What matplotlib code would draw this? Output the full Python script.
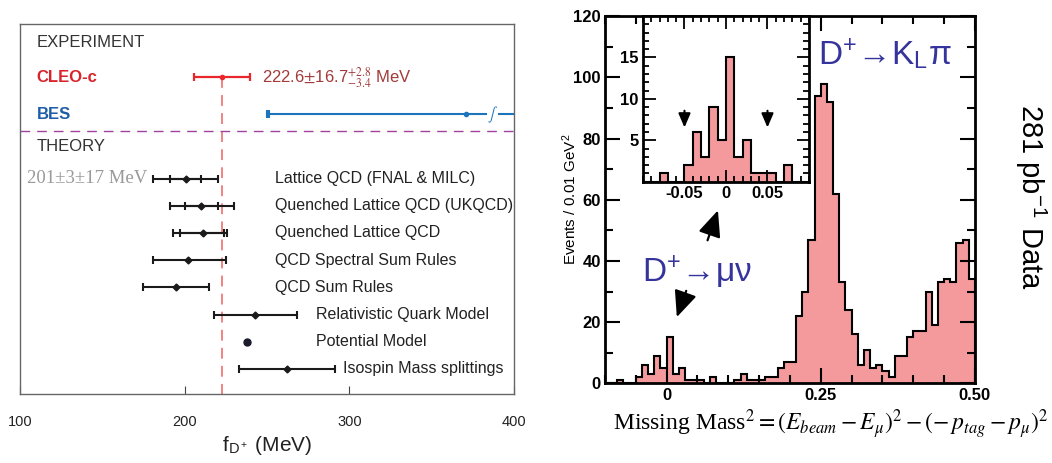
import numpy as np
import matplotlib.pyplot as plt
from matplotlib.ticker import MultipleLocator

plt.rcParams['font.family'] = ['Liberation Sans', 'DejaVu Sans']
plt.rcParams['mathtext.fontset'] = 'stix'
plt.rcParams['axes.unicode_minus'] = False

# ---- left panel: f_D+ comparison (MeV)
cleo_val = 222.6
cleo_stat = 16.7
cleo_syst_up = 2.8
cleo_syst_dn = 3.4
bes_val = 371.0
bes_err_dn = 121.0

theory_labels = ['Lattice QCD (FNAL & MILC)', 'Quenched Lattice QCD (UKQCD)',
                 'Quenched Lattice QCD', 'QCD Spectral Sum Rules', 'QCD Sum Rules',
                 'Relativistic Quark Model', 'Potential Model', 'Isospin Mass splittings']
theory_vals = [201, 210, 211, 202, 195, 243, 238, 262]
theory_err_lo = [20, 19, 18, 21, 20, 25, 0, 29]
theory_err_hi = [19, 20, 15, 23, 20, 25, 0, 29]
theory_inner_lo = [10, 10, 14, 0, 0, 0, 0, 0]
theory_inner_hi = [9, 10, 13, 0, 0, 0, 0, 0]

# ---- right panel: missing mass squared histogram, 0.01 GeV^2 bins from -0.10
mm2_start = -0.10
mm2_bin = 0.01
mm2_counts = [0, 0, 1, 0, 0, 2, 6, 3, 9, 5,
              15, 3, 5, 1, 1, 1, 0, 2, 0, 0,
              0, 1, 3, 1, 1, 1, 2, 2, 5, 7,
              7, 22, 30, 47, 94, 98, 92, 62, 33, 24,
              16, 6, 11, 5, 6, 4, 2, 9, 9, 15,
              17, 17, 30, 19, 33, 34, 33, 46, 47, 34]
main_xticks = [0, 0.25, 0.5]
main_xticklabels = ['0', '0.25', '0.50']
inset_xticks = [-0.05, 0, 0.05]
inset_xticklabels = ['-0.05', '0', '0.05']
inset_cut = 0.05

pink = '#f59a9c'
blue_txt = '#34349c'

fig = plt.figure(figsize=(10.52, 4.63), dpi=100)

# ================= left panel =================
ax = fig.add_axes([0.019, 0.149, 0.4696, 0.799])
ax.set_xlim(100, 400)
ax.set_ylim(0.08, 13.68)
for s in ax.spines.values():
    s.set_color('#666666')
    s.set_linewidth(1.0)
ax.set_yticks([])
ax.set_xticks([100, 200, 300, 400])
ax.tick_params(axis='x', direction='in', length=6, color='#444444', labelsize=10.5,
               labelcolor='#222222', pad=15)
ax.set_xlabel(r'f$_{\mathregular{D^+}}$ (MeV)', fontsize=15, color='#222222', labelpad=4)

row_exp_title = 12.99
row_cleo = 11.72
row_bes = 10.36
row_sep = 9.76
row_theory_title = 9.17
theory_rows = np.arange(len(theory_vals), 0, -1)

ax.text(110, row_exp_title, 'EXPERIMENT', fontsize=12, color='#333333', va='center')
ax.text(110, row_theory_title, 'THEORY', fontsize=12, color='#333333', va='center')
ax.text(110, row_cleo, 'CLEO-c', fontsize=12, color='#d8242b', fontweight='bold', va='center')
ax.text(110, row_bes, 'BES', fontsize=12, color='#1f5ea6', fontweight='bold', va='center')

err_up = np.hypot(cleo_stat, cleo_syst_up)
err_dn = np.hypot(cleo_stat, cleo_syst_dn)
ax.plot([cleo_val, cleo_val], [row_cleo, 0.08], color='#f07a7a', lw=1.3, ls=(0, (6, 4)), zorder=1)
ax.errorbar([cleo_val], [row_cleo], xerr=[[err_dn], [err_up]], fmt='o', ms=3,
            color='#e8262b', lw=1.6, capsize=3, capthick=1.6, zorder=3)
ax.text(247, row_cleo, r'222.6$\pm$16.7$^{+2.8}_{-3.4}$ MeV', fontsize=12,
        color='#a33a3a', va='center')

ax.plot([bes_val - bes_err_dn, 400], [row_bes, row_bes], color='#1c75bc', lw=1.5, clip_on=True)
ax.plot([bes_val - bes_err_dn], [row_bes], marker='|', ms=6, mew=1.5, color='#1c75bc')
ax.plot([bes_val - bes_err_dn + 1.5], [row_bes], marker='|', ms=6, mew=1.5, color='#1c75bc')
ax.plot([bes_val], [row_bes], 'o', ms=3, color='#1c75bc')
ax.text(387, row_bes, r'$\int$', fontsize=10, color='#1c75bc', ha='center', va='center',
        bbox=dict(facecolor='white', edgecolor='none', pad=0))

ax.axhline(row_sep, color='#a0429e', lw=1.0, ls=(0, (7, 5)), clip_on=False)

for i in range(len(theory_vals)):
    y = theory_rows[i]
    v = theory_vals[i]
    if theory_err_lo[i] > 0:
        ax.errorbar([v], [y], xerr=[[theory_err_lo[i]], [theory_err_hi[i]]], fmt='D', ms=3.5,
                    color='#1a1a1a', lw=1.5, capsize=3, capthick=1.5)
    else:
        ax.plot([v], [y], 'o', ms=5, color='#1a1a2a')
    if theory_inner_lo[i] > 0:
        ax.errorbar([v], [y], xerr=[[theory_inner_lo[i]], [theory_inner_hi[i]]], fmt='none',
                    color='#1a1a1a', lw=1.5, capsize=3, capthick=1.5)

label_x = [255, 255, 255, 255, 255, 280, 280, 296]
for i, lab in enumerate(theory_labels):
    ax.text(label_x[i], theory_rows[i], lab, fontsize=11.5, color='#222222', va='center')
ax.text(177, theory_rows[0], '201±3±17 MeV', fontsize=13.5, color='#9a9a9a',
        family='Liberation Serif', ha='right', va='center')

# ================= right panel =================
edges = mm2_start + mm2_bin * np.arange(len(mm2_counts) + 1)

axr = fig.add_axes([0.575, 0.172, 0.3517, 0.793])
axr.stairs(mm2_counts, edges, fill=True, color=pink, zorder=1)
axr.stairs(mm2_counts, edges, color='black', lw=1.5, zorder=2)
axr.set_xlim(-0.1, 0.5)
axr.set_ylim(0, 120)
axr.set_xticks(main_xticks, main_xticklabels)
axr.xaxis.set_minor_locator(MultipleLocator(0.05))
axr.yaxis.set_major_locator(MultipleLocator(20))
axr.yaxis.set_minor_locator(MultipleLocator(10))
axr.tick_params(which='both', direction='in', top=True, right=True, width=1.5, labelsize=12, pad=3)
axr.tick_params(which='major', length=11)
axr.tick_params(which='minor', length=6)
for lbl in axr.get_xticklabels() + axr.get_yticklabels():
    lbl.set_fontweight('bold')
for s in axr.spines.values():
    s.set_linewidth(2)
axr.set_ylabel(r'Events / 0.01 GeV$^{\mathregular{2}}$', fontsize=11)
axr.yaxis.set_label_coords(-0.07, 0.5)
axr.set_xlabel(r'Missing Mass$^2 = \left(E_{beam} - E_{\mu}\right)^2 - \left(-\,p_{tag} - p_{\mu}\right)^2$',
               family='Liberation Serif', fontsize=17)
axr.xaxis.set_label_coords(0.61, -0.065)

axr.text(0.245, 104, 'D$^{\\mathregular{+}}$→K$_{\\mathregular{L}}$π', fontsize=24, color=blue_txt,
         ha='left', va='baseline')
axr.text(-0.04, 33.3, 'D$^{\\mathregular{+}}$→μν', fontsize=24, color=blue_txt,
         ha='left', va='baseline')
arrow_style = dict(arrowstyle='-|>,head_length=0.8,head_width=0.35', mutation_scale=20,
                   color='black', lw=1.6)
axr.annotate('', xy=(0.0848, 57.4), xytext=(0.065, 45.9), arrowprops=arrow_style)
axr.annotate('', xy=(0.0151, 20.8), xytext=(0.0334, 31.1), arrowprops=arrow_style)

fig.text(0.979, 0.575, '281 pb$^{\\mathregular{-1}}$ Data', fontsize=21, rotation=-90,
         ha='center', va='center')

# ---- inset
axi = fig.add_axes([0.6112, 0.6076, 0.1578, 0.358])
axi.stairs(mm2_counts, edges, fill=True, color=pink, zorder=1)
axi.stairs(mm2_counts, edges, color='black', lw=1.5, zorder=2)
axi.set_xlim(-0.1, 0.1)
axi.set_ylim(0, 20)
axi.set_xticks(inset_xticks, inset_xticklabels)
axi.set_yticks([5, 10, 15])
axi.xaxis.set_minor_locator(MultipleLocator(0.01))
axi.yaxis.set_minor_locator(MultipleLocator(1))
axi.tick_params(which='both', direction='in', top=True, right=True, width=1.3, labelsize=12, pad=3)
axi.tick_params(which='major', length=9)
axi.tick_params(which='minor', length=4)
for lbl in axi.get_xticklabels() + axi.get_yticklabels():
    lbl.set_fontweight('bold')
for s in axi.spines.values():
    s.set_linewidth(2)
small_arrow = dict(arrowstyle='-|>,head_length=0.7,head_width=0.3', mutation_scale=12,
                   color='black', lw=1.5)
for xc in (-inset_cut, inset_cut):
    axi.annotate('', xy=(xc, 6.2), xytext=(xc, 8.9), arrowprops=small_arrow)

fig.savefig('out.png', dpi=100)
